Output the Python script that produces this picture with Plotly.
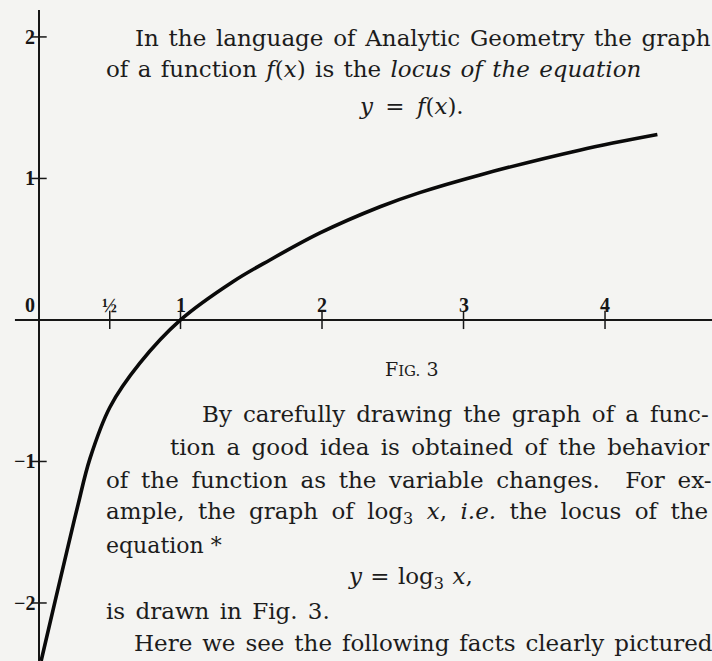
import plotly.graph_objects as go

# Points along the plotted curve y = log3(x)
CURVE_X = [0.015, 0.113, 0.198, 0.276, 0.36, 0.502, 0.714, 1.0, 1.37, 1.632, 1.986, 2.41, 2.69, 3.117, 3.82, 4.37]
CURVE_Y = [-2.41, -1.99, -1.63, -1.305, -0.98, -0.615, -0.304, 0.0, 0.27, 0.424, 0.615, 0.80, 0.90, 1.025, 1.20, 1.31]

# Axis tick positions and labels
X_TICKS = [0.5, 1, 2, 3, 4]
X_TICK_LABELS = ["½", "1", "2", "3", "4"]
Y_TICKS = [2, 1, -1, -2]
Y_TICK_LABELS = ["2", "1", "−1", "−2"]

# Extent of the drawn coordinate axes
X_AXIS_SPAN = [-0.17, 4.8]
Y_AXIS_SPAN = [-2.45, 2.19]

W, H = 712, 661
X_RANGE = [-0.2756, 4.756]
Y_RANGE = [-2.41, 2.261]

INK = "#161616"
SERIF = "Liberation Serif, Times New Roman, serif"
BOOK = "DejaVu Serif, serif"

fig = go.Figure()

# coordinate axes
fig.add_trace(go.Scatter(x=X_AXIS_SPAN, y=[0, 0], mode="lines",
                         line=dict(color=INK, width=2), hoverinfo="skip"))
fig.add_trace(go.Scatter(x=[0, 0], y=Y_AXIS_SPAN, mode="lines",
                         line=dict(color=INK, width=2), hoverinfo="skip"))

# tick crosses
fig.add_trace(go.Scatter(x=X_TICKS, y=[0] * len(X_TICKS), mode="markers",
                         marker=dict(symbol="line-ns-open", size=13, color=INK,
                                     line=dict(color=INK, width=1.5)),
                         hoverinfo="skip"))
fig.add_trace(go.Scatter(x=[0] * len(Y_TICKS), y=Y_TICKS, mode="markers",
                         marker=dict(symbol="line-ew-open", size=11, color=INK,
                                     line=dict(color=INK, width=1.5)),
                         hoverinfo="skip"))

# the curve
fig.add_trace(go.Scatter(x=CURVE_X, y=CURVE_Y, mode="lines",
                         line=dict(color="#0a0a0a", width=3.6, shape="spline", smoothing=1.0),
                         hoverinfo="skip"))

annotations = []

# tick labels
for xv, lab in zip(X_TICKS, X_TICK_LABELS):
    annotations.append(dict(x=xv, y=0, xref="x", yref="y", text=f"<b>{lab}</b>",
                            showarrow=False, yanchor="bottom", yshift=2,
                            font=dict(family=SERIF, size=20, color=INK)))
for yv, lab in zip(Y_TICKS, Y_TICK_LABELS):
    annotations.append(dict(x=0, y=yv, xref="x", yref="y", text=f"<b>{lab}</b>",
                            showarrow=False, xanchor="right", xshift=-2,
                            font=dict(family=SERIF, size=20, color=INK)))
annotations.append(dict(x=0, y=0, xref="x", yref="y", text="<b>0</b>",
                        showarrow=False, xanchor="right", yanchor="bottom",
                        xshift=-2, yshift=2,
                        font=dict(family=SERIF, size=20, color=INK)))


def px(v):
    return v / W


def py(v):
    return 1 - v / H


# page text, one entry per printed line:
# (left x, centre y, text, size, extra word spacing in px)
PAGE_LINES = [
    (133, 38, "In the language of Analytic Geometry the graph", 23, 2.4),
    (104, 69, "of a function <i>f</i>(<i>x</i>) is the <i>locus of the equation</i>", 23, 2.0),
    (357, 106, "<i>y</i> = <i>f</i>(<i>x</i>).", 23, 5),
    (383, 369, "F<span style='font-size:15px'>IG.</span> 3", 19, 0),
    (200, 414, "By carefully drawing the graph of a func-", 23, 3.7),
    (168, 447, "tion a good idea is obtained of the behavior", 23, 4.0),
    (104, 480, "of the function as the variable changes.  For ex-", 23, 5.4),
    (104, 513, "ample, the graph of log<sub>3</sub> <i>x</i>, <i>i.e.</i> the locus of the", 23, 6.1),
    (104, 545, "equation *", 22, 0),
    (346, 578, "<i>y</i> = log<sub>3</sub> <i>x</i>,", 23, 1),
    (104, 611, "is drawn in Fig. 3.", 23, 3),
    (132, 643, "Here we see the following facts clearly pictured", 23, 2.6),
]
for x0, y0, txt, sz, ws in PAGE_LINES:
    if ws:
        txt = f"<span style='word-spacing:{ws}px'>{txt}</span>"
    annotations.append(dict(x=px(x0), y=py(y0), xref="paper", yref="paper",
                            text=txt, showarrow=False, xanchor="left",
                            yanchor="middle",
                            font=dict(family=BOOK, size=sz, color="#1c1c1c")))

fig.update_layout(
    width=W, height=H,
    margin=dict(l=0, r=0, t=0, b=0),
    paper_bgcolor="#f4f4f2",
    plot_bgcolor="#f4f4f2",
    showlegend=False,
    xaxis=dict(range=X_RANGE, visible=False, fixedrange=True),
    yaxis=dict(range=Y_RANGE, visible=False, fixedrange=True),
    annotations=annotations,
)

fig.write_html("out.html")
